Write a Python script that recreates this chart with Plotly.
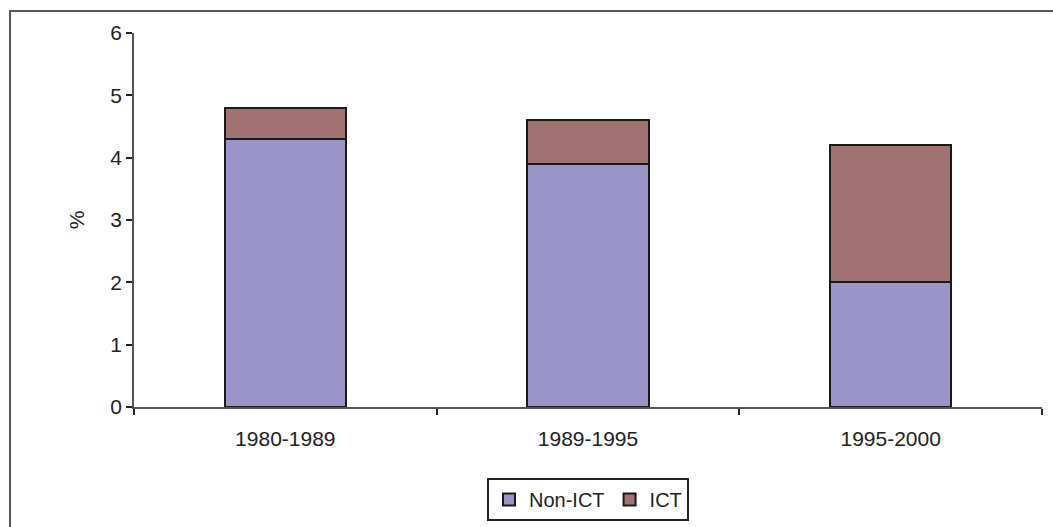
import plotly.graph_objects as go

categories = ["1980-1989", "1989-1995", "1995-2000"]
non_ict = [4.3, 3.9, 2.0]
ict = [0.5, 0.7, 2.2]
y_ticks = [0, 1, 2, 3, 4, 5, 6]

font_family = "Liberation Sans, Arial, sans-serif"

fig = go.Figure()
fig.add_trace(go.Bar(
    x=categories, y=non_ict, name="Non-ICT",
    marker=dict(color="#9A94C8", line=dict(color="#1a1a1a", width=2)),
))
fig.add_trace(go.Bar(
    x=categories, y=ict, name="ICT",
    marker=dict(color="#A17272", line=dict(color="#1a1a1a", width=2)),
))

W, H = 1053, 527
L, R, T, B = 134, 11, 33, 120
pw, ph = W - L - R, H - T - B

def px(xp):
    return (xp - L) / pw

def py(yp):
    return (H - B - yp) / ph

fig.update_layout(
    width=W, height=H,
    barmode="stack", bargap=0.6,
    plot_bgcolor="white", paper_bgcolor="white",
    margin=dict(l=L, r=R, t=T, b=B, autoexpand=False),
    font=dict(family=font_family, size=21, color="#222222"),
    showlegend=True,
    legend=dict(
        orientation="h", x=0.5, xanchor="center", y=py(478), yanchor="top",
        bordercolor="#222222", borderwidth=2, bgcolor="white",
        font=dict(size=20), traceorder="normal",
        itemwidth=30, tracegroupgap=0,
    ),
    xaxis=dict(
        range=[-0.5, 2.5], showline=True, linecolor="#555555", linewidth=1.5,
        ticks="outside", tickson="boundaries", ticklen=6, tickcolor="#222222", tickwidth=2,
        showgrid=False, zeroline=False, ticklabelstandoff=12, automargin=False,
    ),
    yaxis=dict(
        range=[0, 6], tickvals=y_ticks, showline=True, linecolor="#555555", linewidth=1.5,
        ticks="outside", ticklen=6, tickcolor="#222222", tickwidth=2,
        showgrid=False, zeroline=False, automargin=False,
        title=dict(text="%", standoff=20, font=dict(size=21)),
    ),
    shapes=[dict(
        type="rect", xref="paper", yref="paper",
        x0=px(10), x1=px(1070), y0=py(540), y1=py(11),
        line=dict(color="#555555", width=2), fillcolor="rgba(0,0,0,0)", layer="below",
    )],
)

fig.write_html(
    "out.html",
    config={"displayModeBar": False},
    post_script="document.body.style.margin='0';document.body.style.overflow='hidden';",
)
